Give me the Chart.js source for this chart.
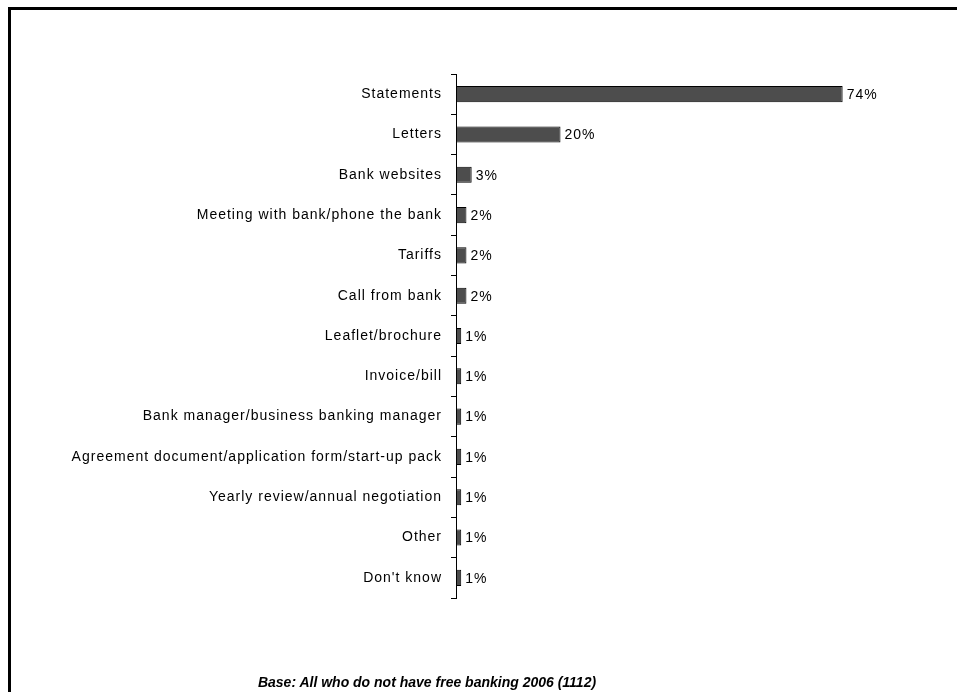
<!DOCTYPE html>
<html>
<head>
<meta charset="utf-8">
<script src="https://cdn.jsdelivr.net/npm/chart.js@4/dist/chart.umd.min.js"></script>
<style>
  html, body { margin: 0; padding: 0; background: #fff; overflow: hidden; }
  #wrap { position: relative; width: 957px; height: 692px; }
  #frame { position: absolute; left: 8px; top: 7px; width: 1200px; height: 1200px; border: 3px solid #000; }
  #chart { position: absolute; left: 0; top: 0; }
  #base { position: absolute; left: 0; width: 854px; top: 674px; text-align: center;
          font: italic bold 14px "Liberation Sans", Arial, sans-serif; color: #000; }
</style>
</head>
<body>
<div id="wrap">
  <div id="frame"></div>
  <canvas id="chart" width="957" height="692"></canvas>
  <div id="base">Base: All who do not have free banking 2006 (1112)</div>
</div>
<script>
// sources of information, share of respondents (%)
const sources = [
  'Statements',
  'Letters',
  'Bank websites',
  'Meeting with bank/phone the bank',
  'Tariffs',
  'Call from bank',
  'Leaflet/brochure',
  'Invoice/bill',
  'Bank manager/business banking manager',
  'Agreement document/application form/start-up pack',
  'Yearly review/annual negotiation',
  'Other',
  "Don't know"
];
const shares = [74, 20, 3, 2, 2, 2, 1, 1, 1, 1, 1, 1, 1];

const FONT = '"Liberation Sans", Arial, sans-serif';

// slightly loose letter spacing for all canvas text
const spacing = {
  id: 'spacing',
  beforeDraw(chart) {
    chart.ctx.letterSpacing = '1px';
  }
};

// writes "NN%" just past the end of each bar
const valueLabels = {
  id: 'valueLabels',
  afterDatasetsDraw(chart) {
    const ctx = chart.ctx;
    const meta = chart.getDatasetMeta(0);
    ctx.save();
    ctx.letterSpacing = '1px';
    ctx.font = '14px ' + FONT;
    ctx.fillStyle = '#000';
    ctx.textAlign = 'left';
    ctx.textBaseline = 'middle';
    meta.data.forEach((bar, i) => {
      ctx.fillText(shares[i] + '%', bar.x + 4, bar.y + 1);
    });
    ctx.restore();
  }
};

new Chart(document.getElementById('chart'), {
  type: 'bar',
  data: {
    labels: sources,
    datasets: [{
      data: shares,
      backgroundColor: '#4d4d4d',
      borderColor: '#000',
      borderWidth: 1,
      borderSkipped: false,
      categoryPercentage: 0.4,
      barPercentage: 1
    }]
  },
  options: {
    indexAxis: 'y',
    responsive: false,
    animation: false,
    layout: { padding: { top: 74, bottom: 94, right: 83, left: 0 } },
    plugins: {
      legend: { display: false },
      tooltip: { enabled: false }
    },
    scales: {
      x: {
        display: false,
        min: 0,
        max: 80
      },
      y: {
        afterFit(scale) { scale.width = 456; },
        border: { display: true, color: '#000', width: 1 },
        grid: {
          display: true,
          drawOnChartArea: false,
          drawTicks: true,
          tickLength: 5,
          color: '#000',
          offset: true
        },
        ticks: {
          padding: 9,
          color: '#000',
          font: { family: FONT, size: 14 }
        }
      }
    }
  },
  plugins: [spacing, valueLabels]
});
</script>
</body>
</html>
